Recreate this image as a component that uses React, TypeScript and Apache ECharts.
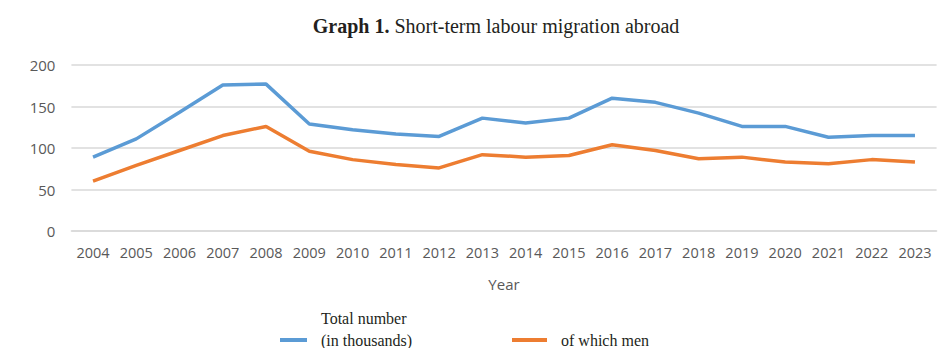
import React, { useEffect, useRef } from "react";
import * as echarts from "echarts";

const years = ["2004","2005","2006","2007","2008","2009","2010","2011","2012","2013","2014","2015","2016","2017","2018","2019","2020","2021","2022","2023"];
const totalNumber = [89, 111, 143, 176, 177, 129, 122, 117, 114, 136, 130, 136, 160, 155, 142, 126, 126, 113, 115, 115];
const ofWhichMen = [60, 79, 97, 115, 126, 96, 86, 80, 76, 92, 89, 91, 104, 97, 87, 89, 83, 81, 86, 83];
const yTicks = [0, 50, 100, 150, 200];

const totalName = "Total number (in thousands)";
const totalLine1 = "Total number";
const totalLine2 = "(in thousands)";
const menName = "of which men";

export default function App() {
  const ref = useRef<HTMLDivElement>(null);
  useEffect(() => {
    if (!ref.current) return;
    const chart = echarts.init(ref.current, undefined, { renderer: "svg" });
    const sans = "Open Sans";
    const serif = "Liberation Serif";
    chart.setOption({
      animation: false,
      backgroundColor: "#ffffff",
      title: {
        text: "{b|Graph 1.} {n|Short-term labour migration abroad}",
        left: 491,
        textAlign: "center",
        top: 11,
        textStyle: {
          rich: {
            b: { fontFamily: serif, fontWeight: "bold", fontSize: 20, color: "#231f20" },
            n: { fontFamily: serif, fontWeight: "normal", fontSize: 20, color: "#231f20" },
          },
        },
      },
      graphic: [
        {
          type: "text",
          left: 321,
          top: 310,
          style: { text: totalLine1, fontFamily: serif, fontSize: 16, fill: "#231f20" },
        },
      ],
      legend: [
        {
          data: [totalName],
          formatter: () => totalLine2,
          left: 280,
          top: 330,
          padding: 0,
          icon: "rect",
          itemWidth: 27,
          itemHeight: 4,
          textStyle: {
            fontFamily: serif,
            fontSize: 16,
            color: "#231f20",
            lineHeight: 20,
            padding: [0, 0, 0, 9],
          },
        },
        {
          data: [menName],
          left: 512,
          top: 330,
          padding: 0,
          icon: "rect",
          itemWidth: 35,
          itemHeight: 4,
          textStyle: {
            fontFamily: serif,
            fontSize: 16,
            color: "#231f20",
            lineHeight: 20,
            padding: [0, 0, 0, 9],
          },
        },
      ],
      grid: { left: 71.4, right: 5.4, top: 65, bottom: 117 },
      xAxis: {
        type: "category",
        data: years,
        boundaryGap: true,
        name: "Year",
        nameLocation: "middle",
        nameGap: 45,
        nameTextStyle: { fontFamily: sans, fontSize: 15, color: "#595959" },
        axisLine: { show: true, lineStyle: { color: "#d9d9d9", width: 1.5 } },
        axisTick: { show: false },
        axisLabel: { fontFamily: sans, fontSize: 14.5, color: "#595959", margin: 14 },
      },
      yAxis: {
        type: "value",
        min: yTicks[0],
        max: yTicks[yTicks.length - 1],
        interval: 50,
        axisLine: { show: false },
        axisTick: { show: false },
        splitLine: { lineStyle: { color: "#d9d9d9", width: 1.5 } },
        axisLabel: { fontFamily: sans, fontSize: 15, color: "#595959", margin: 16 },
      },
      series: [
        {
          name: totalName,
          type: "line",
          data: totalNumber,
          symbol: "none",
          lineStyle: { color: "#5b9bd5", width: 3.5 },
          itemStyle: { color: "#5b9bd5" },
        },
        {
          name: menName,
          type: "line",
          data: ofWhichMen,
          symbol: "none",
          lineStyle: { color: "#ed7d31", width: 3.5 },
          itemStyle: { color: "#ed7d31" },
        },
      ],
    });
    return () => chart.dispose();
  }, []);
  return (
    <div
      ref={ref}
      style={{ position: "fixed", left: 0, top: 0, width: 942, height: 348, background: "#fff" }}
    />
  );
}
